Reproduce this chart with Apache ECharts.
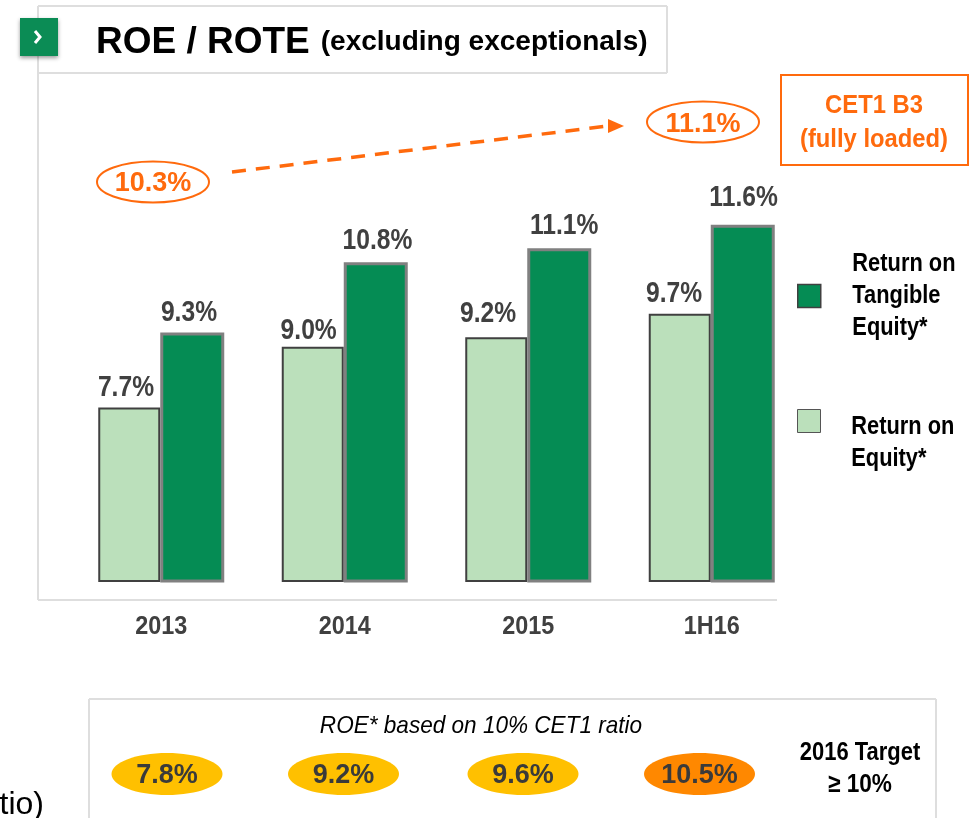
<!DOCTYPE html>
<html><head><meta charset="utf-8">
<style>html,body{margin:0;padding:0;background:#fff}#c{width:976px;height:818px}</style>
<script src="https://cdn.jsdelivr.net/npm/echarts@6/dist/echarts.min.js"></script>
</head><body><div id="c"></div>
<script>
const categories = ['2013','2014','2015','1H16'];
const roe = [7.7,9.0,9.2,9.7];
const rote = [9.3,10.8,11.1,11.6];
const cet1Labels = ['10.3%','11.1%'];
const roe10 = ['7.8%','9.2%','9.6%','10.5%'];
const roeLabelShift = [[-4,0],[-5,4],[-10,-4],[-7,0]];
const roteLabelShift = [[-4,0],[2,-2],[6,-2],[1,-7]];
const NAME_ROTE = 'Return on Tangible Equity*';
const NAME_ROE = 'Return on Equity*';
const SANS = '"Liberation Sans",Arial,sans-serif';
const ORANGE = '#ff6a0d', FRAME = '#dedede', GREEN = '#058c54', LIGHT = '#bbe0bb';

const pctLabel = {show:true,position:'top',distance:5,formatter:p=>p.value.toFixed(1)+'%',
  fontFamily:SANS,fontWeight:'bold',fontSize:30,color:'#404040'};
const withShift = (vals,shift) => vals.map((value,i)=>({value,label:{offset:shift[i]}}));
const txt = (x,y,text,font,fill,align,sx) => ({type:'text',x,y,z:20,scaleX:sx||1,style:{text,fill,align:align||'center',verticalAlign:'middle',font}});
const frame = (x1,y1,x2,y2) => ({type:'line',z:1,shape:{x1,y1,x2,y2},style:{stroke:FRAME,lineWidth:2}});
const ring = (cx,cy) => ({type:'ellipse',z:10,shape:{cx,cy,rx:56,ry:20.5},style:{fill:'#fff',stroke:ORANGE,lineWidth:2}});
const pill = (cx,fill,t) => [{type:'ellipse',z:10,shape:{cx,cy:774,rx:55.5,ry:21},style:{fill}},
  txt(cx,776,t,'bold 27px '+SANS,'#3a3a3a')];
const legendText = {fontFamily:SANS,fontWeight:'bold',fontSize:26,lineHeight:32,color:'#000'};

const option = {
  animation:false,
  backgroundColor:'#fff',
  title:{left:96,top:24,padding:0,text:'{a|ROE / ROTE} {b|(excluding exceptionals)}',
    textStyle:{rich:{a:{fontFamily:SANS,fontWeight:'bold',fontSize:37,color:'#000',padding:[0,6,0,0]},
                     b:{fontFamily:SANS,fontWeight:'bold',fontSize:28,color:'#000'}}}},
  grid:{left:69.5,top:206,width:734,height:375},
  xAxis:{type:'category',data:categories,axisLine:{show:false},axisTick:{show:false},
    axisLabel:{margin:33,fontFamily:SANS,fontWeight:'bold',fontSize:26,color:'#404040'}},
  yAxis:{type:'value',min:4,max:12,interval:1,show:false,splitLine:{show:false}},
  legend:[
    {data:[NAME_ROTE],left:797,top:248,orient:'vertical',padding:0,icon:'rect',itemWidth:23,itemHeight:23,
      itemStyle:{borderColor:'#404040',borderWidth:1.5},
      formatter:()=>'Return on\nTangible\nEquity*',
      textStyle:Object.assign({padding:[0,0,0,37]},legendText)},
    {data:[NAME_ROE],left:797,top:367,orient:'vertical',padding:0,icon:'rect',itemWidth:23,itemHeight:23,
      itemStyle:{borderColor:'#555',borderWidth:1},
      formatter:()=>'{g| }\n{t|Return on}\n{t|Equity*}',
      textStyle:Object.assign({padding:[0,0,0,36],rich:{g:{lineHeight:44,fontSize:10},t:legendText}},legendText)}
  ],
  series:[
    {name:NAME_ROE,type:'bar',data:withShift(roe,roeLabelShift),barWidth:62,barGap:'0%',z:3,
      itemStyle:{color:LIGHT,borderColor:'#404040',borderWidth:2},label:pctLabel},
    {name:NAME_ROTE,type:'bar',data:withShift(rote,roteLabelShift),barWidth:64,barGap:'0%',z:4,
      itemStyle:{color:GREEN,borderColor:'#808080',borderWidth:3},label:pctLabel}
  ],
  graphic:[
    frame(38,6,38,600), frame(38,600,777,600),
    frame(38,6,667,6), frame(667,6,667,73), frame(38,73,667,73),
    {type:'rect',z:12,shape:{x:20,y:18,width:38,height:38},
      style:{fill:'#0b8c55',shadowBlur:4,shadowColor:'rgba(0,0,0,0.4)',shadowOffsetY:2}},
    {type:'polyline',z:13,shape:{points:[[35,31],[40,37],[35,43]]},style:{stroke:'#fff',lineWidth:3,fill:'none'}},
    {type:'line',z:10,shape:{x1:232,y1:172,x2:608,y2:126},style:{stroke:ORANGE,lineWidth:3.5,lineDash:[14,10]}},
    {type:'polygon',z:10,shape:{points:[[608,119],[624,126],[608,133]]},style:{fill:ORANGE}},
    ring(153,182), txt(153,184,cet1Labels[0],'bold 27px '+SANS,ORANGE),
    ring(703,122), txt(703,125,cet1Labels[1],'bold 27px '+SANS,ORANGE),
    {type:'rect',z:10,shape:{x:781,y:75,width:187,height:90},style:{fill:'#fff',stroke:ORANGE,lineWidth:2}},
    txt(874,106,'CET1 B3','bold 26px '+SANS,ORANGE,'center',0.915),
    txt(874,140,'(fully loaded)','bold 26px '+SANS,ORANGE,'center',0.915),
    frame(89,699,936,699), frame(89,699,89,818), frame(936,699,936,818),
    txt(481,726,'ROE* based on 10% CET1 ratio','italic 24px '+SANS,'#000','center',0.94),
    ...pill(167,'#ffc000',roe10[0]), ...pill(343.5,'#ffc000',roe10[1]),
    ...pill(523,'#ffc000',roe10[2]), ...pill(699.5,'#ff8800',roe10[3]),
    txt(860,753,'2016 Target','bold 26px '+SANS,'#000','center',0.845),
    txt(860,785,'\u2265 10%','bold 26px '+SANS,'#000','center',0.87),
    txt(44,805,'tio)','32px '+SANS,'#000','right')
  ]
};
const chart = echarts.init(document.getElementById('c'),null,{renderer:'canvas'});
chart.setOption(option);

// No condensed face is installed: narrow the library's own labels in place.
const zr = chart.getZr();
const seen = new Set();
zr.storage.getDisplayList(true).forEach(d => {
  const t = d.parent;
  const s = String((d.style && d.style.text) || '').trim();
  if (!t || t.type === 'group' || seen.has(t) || !s) return;
  let k = 0;
  if (/^\d+\.\d%$/.test(s) && t.__hostTarget) k = 0.82;
  else if (categories.includes(s)) k = 0.9;
  else if (/^(Return on|Tangible|Equity\*)/.test(s)) k = 0.84;
  if (!k) return;
  seen.add(t);
  t.scaleX = k;
  if (t.innerTransformable) t.innerTransformable.scaleX = k;
  t.markRedraw && t.markRedraw();
});
zr.refresh();
</script></body></html>
